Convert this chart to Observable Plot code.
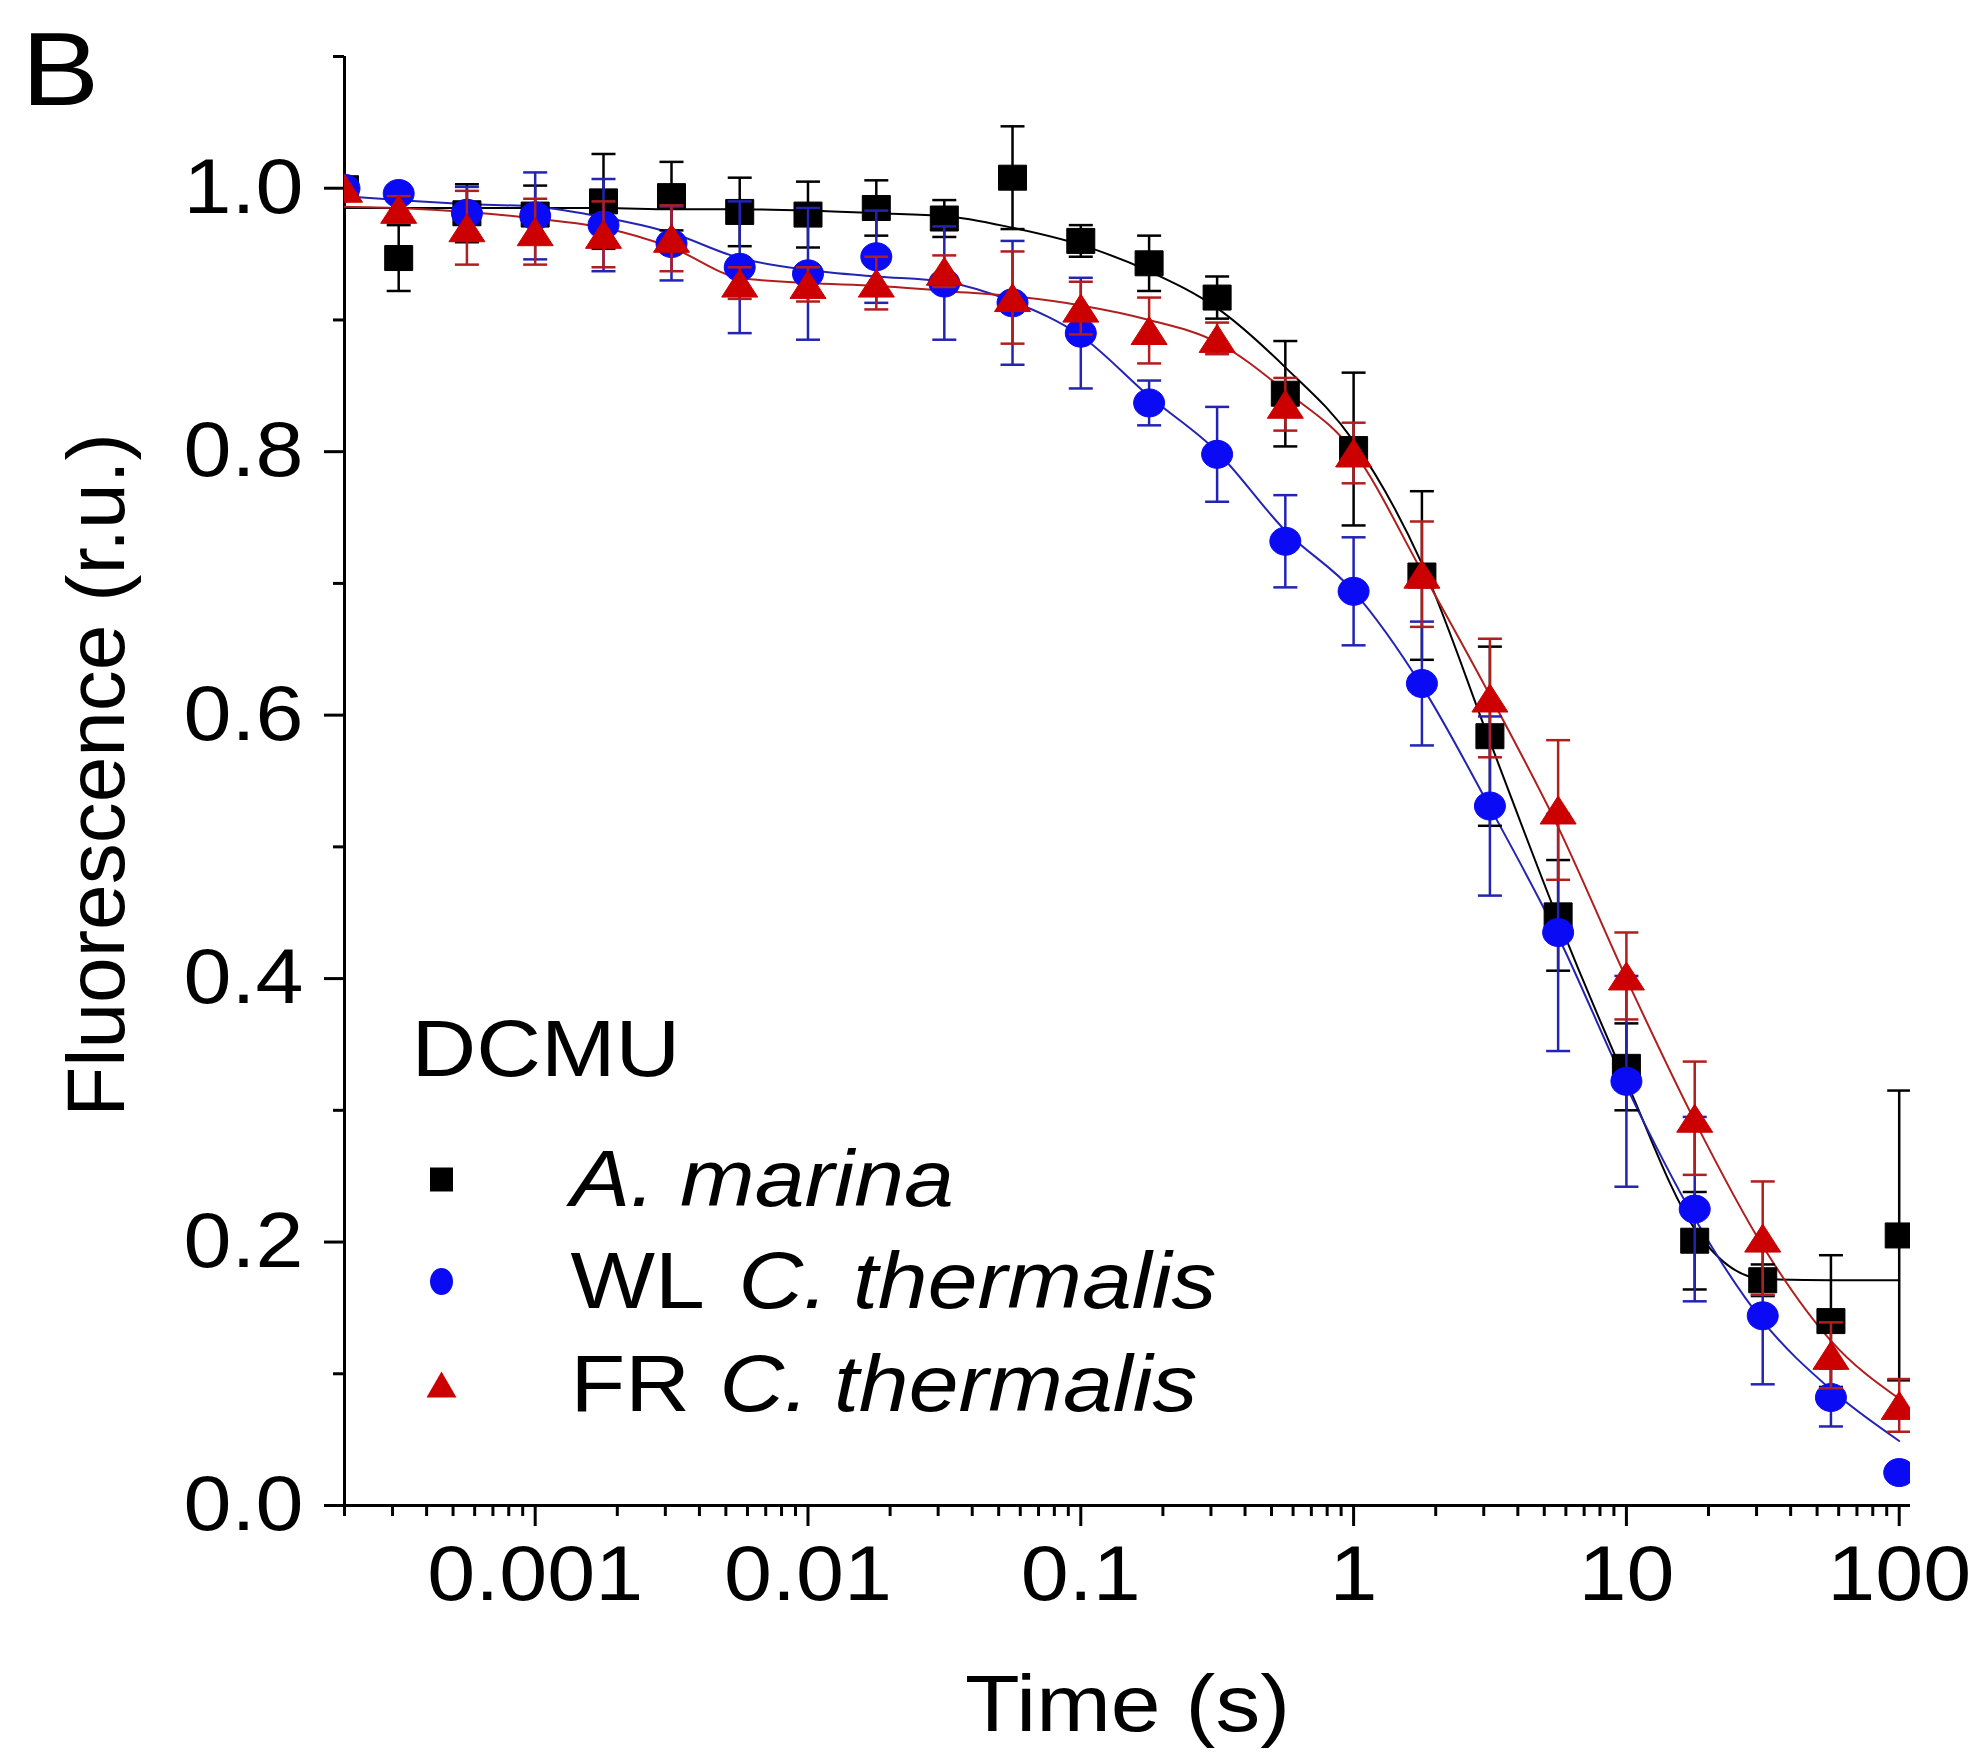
<!DOCTYPE html>
<html>
<head>
<meta charset="utf-8">
<script src="https://cdn.jsdelivr.net/npm/d3@7"></script>
<script src="https://cdn.jsdelivr.net/npm/@observablehq/plot@0.6"></script>
<style>
  html, body { margin: 0; padding: 0; background: #ffffff; }
  #chart { position: relative; width: 1983px; height: 1752px; }
</style>
</head>
<body>
<div id="chart"></div>
<script>
// ---------- data ----------
const times = [0.0002, 0.000316, 0.000562, 0.001, 0.00178, 0.00316, 0.00562, 0.01, 0.0178, 0.0316, 0.0562, 0.1,
               0.178, 0.316, 0.562, 1, 1.78, 3.16, 5.62, 10, 17.8, 31.6, 56.2, 100];

const marinaValues = [1.0, 0.947, 0.981, 0.980, 0.990, 0.994, 0.982, 0.980, 0.985, 0.977, 1.008, 0.960,
                      0.943, 0.917, 0.844, 0.802, 0.706, 0.584, 0.448, 0.333, 0.201, 0.171, 0.140, 0.205];
const marinaErrors = [0, 0.025, 0.022, 0.022, 0.036, 0.026, 0.026, 0.025, 0.021, 0.014, 0.039, 0.012,
                      0.021, 0.016, 0.040, 0.058, 0.064, 0.068, 0.042, 0.033, 0.037, 0.012, 0.050, 0.110];
const marinaFit = [0.985, 0.985, 0.985, 0.985, 0.985, 0.984, 0.984, 0.983, 0.981, 0.979, 0.970, 0.957,
                   0.937, 0.909, 0.864, 0.808, 0.715, 0.580, 0.445, 0.322, 0.210, 0.172, 0.171, 0.171];

const wlValues = [1.0, 0.996, 0.981, 0.979, 0.972, 0.958, 0.940, 0.935, 0.948, 0.928, 0.913, 0.890,
                  0.837, 0.798, 0.732, 0.694, 0.624, 0.531, 0.435, 0.322, 0.225, 0.144, 0.082, 0.025];
const wlErrors = [0, 0.006, 0.020, 0.033, 0.035, 0.028, 0.050, 0.050, 0.035, 0.043, 0.047, 0.042,
                  0.017, 0.036, 0.035, 0.041, 0.047, 0.068, 0.090, 0.080, 0.070, 0.052, 0.022, 0.004];
const wlFit = [0.994, 0.991, 0.988, 0.986, 0.978, 0.966, 0.947, 0.938, 0.933, 0.929, 0.914, 0.888,
               0.842, 0.800, 0.740, 0.694, 0.622, 0.530, 0.432, 0.318, 0.218, 0.140, 0.088, 0.049];

const frValues = [1.0, 0.984, 0.970, 0.967, 0.965, 0.962, 0.928, 0.927, 0.928, 0.937, 0.917, 0.909,
                  0.892, 0.886, 0.836, 0.799, 0.707, 0.613, 0.528, 0.402, 0.294, 0.203, 0.114, 0.076];
const frErrors = [0, 0.010, 0.028, 0.025, 0.025, 0.025, 0.012, 0.013, 0.020, 0.012, 0.035, 0.020,
                  0.025, 0.012, 0.020, 0.023, 0.040, 0.045, 0.053, 0.033, 0.043, 0.043, 0.025, 0.020];
const frFit = [0.986, 0.985, 0.982, 0.977, 0.970, 0.955, 0.932, 0.928, 0.926, 0.922, 0.918, 0.911,
               0.900, 0.883, 0.846, 0.800, 0.709, 0.615, 0.515, 0.400, 0.292, 0.197, 0.125, 0.081];

const xMajorTicks = [0.001, 0.01, 0.1, 1, 10, 100];
const yMajorTicks = [0, 0.2, 0.4, 0.6, 0.8, 1.0];
const yMinorTicks = [0.1, 0.3, 0.5, 0.7, 0.9, 1.1];
const xDomain = [0.0002, 110];
const yDomain = [0, 1.1];

const panelLabel = "B";
const xLabel = "Time (s)";
const yLabel = "Fluorescence (r.u.)";
const legendTitle = "DCMU";
const legendPrefixes = ["", "WL", "FR"];
const legendItalics = ["A. marina", "C. thermalis", "C. thermalis"];

// ---------- helpers ----------
const xMinorTicks = [];
for (let e = -4; e <= 2; e++) {
  for (let m = 2; m <= 9; m++) {
    const v = m * Math.pow(10, e);
    if (v >= xDomain[0] * 0.999 && v <= xDomain[1]) xMinorTicks.push(+v.toPrecision(3));
  }
}

function rectSym(w, h) {
  return {draw(ctx) { ctx.moveTo(-w/2, -h/2); ctx.lineTo(w/2, -h/2); ctx.lineTo(w/2, h/2); ctx.lineTo(-w/2, h/2); ctx.closePath(); }};
}
function ellipseSym(rx, ry) {
  const k = 0.5523;
  return {draw(ctx) {
    ctx.moveTo(rx, 0);
    ctx.bezierCurveTo(rx, ry*k, rx*k, ry, 0, ry);
    ctx.bezierCurveTo(-rx*k, ry, -rx, ry*k, -rx, 0);
    ctx.bezierCurveTo(-rx, -ry*k, -rx*k, -ry, 0, -ry);
    ctx.bezierCurveTo(rx*k, -ry, rx, -ry*k, rx, 0);
    ctx.closePath();
  }};
}
function triSym(w, h) {
  return {draw(ctx) { ctx.moveTo(0, -h/2); ctx.lineTo(w/2, h/2); ctx.lineTo(-w/2, h/2); ctx.closePath(); }};
}
const capSym = {draw(ctx) { ctx.moveTo(-12, 0); ctx.lineTo(12, 0); }};

const series = [
  {values: marinaValues, errors: marinaErrors, fit: marinaFit, fill: "#000000", line: "#000000", sym: rectSym(28, 25), lsym: rectSym(23, 24)},
  {values: wlValues, errors: wlErrors, fit: wlFit, fill: "#0a0af5", line: "#2323b4", sym: ellipseSym(15.5, 14), lsym: ellipseSym(11.5, 13.5)},
  {values: frValues, errors: frErrors, fit: frFit, fill: "#cc0000", line: "#b01e1e", sym: triSym(36, 28), lsym: triSym(30, 26)}
];

const FONT = "'Liberation Sans', Arial, Helvetica, sans-serif";
const FS = 77;
const LFS = 80;

const marks = [];
// axis lines
marks.push(Plot.ruleX([xDomain[0]], {stroke: "black", strokeWidth: 3}));
marks.push(Plot.ruleY([yDomain[0]], {stroke: "black", strokeWidth: 3}));
// axes
marks.push(Plot.axisY(yMajorTicks, {tickSize: 20, tickPadding: 21, strokeWidth: 3, tickFormat: d3.format(".1f"), fontSize: FS, label: null}));
marks.push(Plot.axisY(yMinorTicks, {tickSize: 11, strokeWidth: 3, tickFormat: () => "", label: null}));
marks.push(Plot.axisX(xMajorTicks, {tickSize: 21, tickPadding: 19, strokeWidth: 3, tickFormat: d => String(d), fontSize: FS, label: null}));
marks.push(Plot.axisX(xMinorTicks, {tickSize: 11, strokeWidth: 3, tickFormat: () => "", label: null}));

// fit lines
for (const s of series) {
  const rows = times.map((t, i) => ({t, v: s.fit[i]}));
  marks.push(Plot.line(rows, {x: "t", y: "v", stroke: s.line, strokeWidth: 2, curve: "monotone-x", clip: true}));
}
// error bars + markers
for (const s of series) {
  const rows = times.map((t, i) => ({t, v: s.values[i], e: s.errors[i]})).filter(d => d.v != null);
  const er = rows.filter(d => d.e > 0);
  marks.push(Plot.ruleX(er, {x: "t", y1: d => d.v - d.e, y2: d => d.v + d.e, stroke: s.line, strokeWidth: 2.5, clip: true}));
  marks.push(Plot.dot(er, {x: "t", y: d => d.v + d.e, symbol: capSym, stroke: s.line, fill: "none", strokeWidth: 2.5, clip: true}));
  marks.push(Plot.dot(er, {x: "t", y: d => d.v - d.e, symbol: capSym, stroke: s.line, fill: "none", strokeWidth: 2.5, clip: true}));
  marks.push(Plot.dot(rows, {x: "t", y: "v", symbol: s.sym, fill: s.fill, stroke: s.fill, strokeWidth: 1, clip: true}));
}

// axis titles and panel label
marks.push(Plot.text([xLabel], {frameAnchor: "bottom", dy: 225, lineAnchor: "bottom", textAnchor: "middle", fontSize: 80, fill: "black"}));
marks.push(Plot.text([yLabel], {frameAnchor: "left", rotate: -90, dx: -221, dy: -6, lineAnchor: "bottom", textAnchor: "middle", fontSize: 82, fill: "black"}));
marks.push(Plot.text([panelLabel], {frameAnchor: "top-left", dx: -323, dy: 48, lineAnchor: "bottom", textAnchor: "start", fontSize: 104, fill: "black"}));

// legend (inside plot)
marks.push(Plot.text([legendTitle], {frameAnchor: "top-left", dx: 67, dy: 1019, lineAnchor: "bottom", textAnchor: "start", fontSize: LFS, fill: "black"}));
const rowDy = [1123, 1225, 1328];
const italicDx = [226, 394, 375];
series.forEach((s, i) => {
  marks.push(Plot.dot([legendItalics[i]], {frameAnchor: "top-left", dx: 97, dy: rowDy[i], symbol: s.lsym, fill: s.fill, stroke: "none"}));
  if (legendPrefixes[i]) {
    marks.push(Plot.text([legendPrefixes[i]], {frameAnchor: "top-left", dx: 226, dy: rowDy[i] + 26, lineAnchor: "bottom", textAnchor: "start", fontSize: LFS, fill: "black"}));
  }
  marks.push(Plot.text([legendItalics[i]], {frameAnchor: "top-left", dx: italicDx[i], dy: rowDy[i] + 26, lineAnchor: "bottom", textAnchor: "start", fontSize: LFS, fontStyle: "italic", fill: "black"}));
});

const chart = Plot.plot({
  width: 1983,
  height: 1752,
  marginLeft: 344,
  marginRight: 73,
  marginTop: 56,
  marginBottom: 247,
  style: {fontFamily: FONT, fontSize: FS + "px", color: "black", background: "white", overflow: "visible"},
  x: {type: "log", domain: xDomain, axis: null},
  y: {type: "linear", domain: yDomain, axis: null},
  marks
});

// the reference's lettering is slightly wide: stretch horizontal text around its anchor
chart.querySelectorAll("text").forEach(t => {
  const tr = t.getAttribute("transform") || "";
  if (!tr.includes("rotate")) t.setAttribute("transform", (tr + " scale(1.12,1)").trim());
});

document.getElementById("chart").appendChild(chart);
</script>
</body>
</html>
